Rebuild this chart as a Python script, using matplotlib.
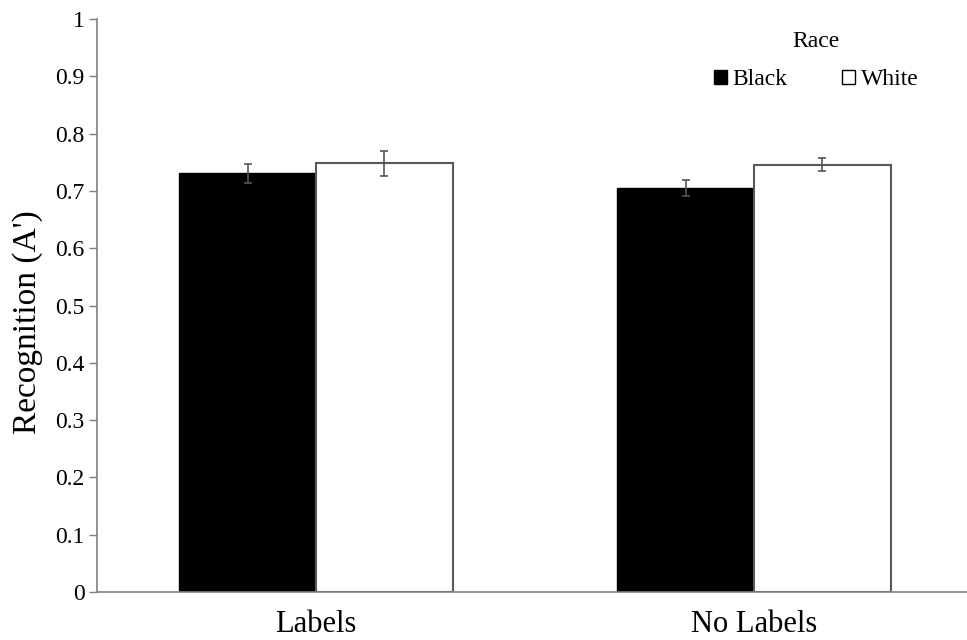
import matplotlib
matplotlib.use("Agg")
import matplotlib.pyplot as plt
import numpy as np
from matplotlib.patches import Patch

categories = ["Labels", "No Labels"]
series_names = ["Black", "White"]
black_vals = [0.731, 0.705]
white_vals = [0.748, 0.746]
black_err = [0.0166, 0.0145]
white_err = [0.0215, 0.012]
yticks = [0, 0.1, 0.2, 0.3, 0.4, 0.5, 0.6, 0.7, 0.8, 0.9, 1.0]
ytick_labels = ["0", "0.1", "0.2", "0.3", "0.4", "0.5", "0.6", "0.7", "0.8", "0.9", "1"]

plt.rcParams['font.family'] = ['Liberation Serif', 'DejaVu Serif']

fig = plt.figure(figsize=(9.67, 6.4), dpi=100)
ax = fig.add_axes([97/967, 48/640, 876/967, 573/640])

x = np.arange(len(categories))
w = 0.312
ecol = "#555555"
ax.bar(x - w/2, black_vals, width=w, color="black", edgecolor="black", linewidth=1,
       yerr=black_err, error_kw=dict(ecolor=ecol, elinewidth=1.2, capsize=3, capthick=1.2),
       label=series_names[0], zorder=2)
ax.bar(x + w/2, white_vals, width=w, color="white", edgecolor="#595959", linewidth=1.5,
       yerr=white_err, error_kw=dict(ecolor=ecol, elinewidth=1.2, capsize=3, capthick=1.2),
       label=series_names[1], zorder=2)

ax.set_xlim(-0.5, 1.5)
ax.set_ylim(0, 1)
ax.set_yticks(yticks)
ax.set_yticklabels(ytick_labels, fontsize=17)
ax.set_xticks(x)
ax.set_xticklabels(categories, fontsize=22)
ax.tick_params(axis='x', length=0, pad=13)
ax.tick_params(axis='y', length=6, width=1, color="#7f7f7f", pad=3, direction='out')

for s in ["top", "right"]:
    ax.spines[s].set_visible(False)
for s in ["left", "bottom"]:
    ax.spines[s].set_color("#7f7f7f")
    ax.spines[s].set_linewidth(1.2)

ax.set_ylabel("Recognition (A')", fontsize=24)
ax.yaxis.set_label_coords(-0.062, 0.471)

handles = [Patch(facecolor="black", edgecolor="black"),
           Patch(facecolor="white", edgecolor="black", linewidth=1)]
leg = ax.legend(handles, series_names, title="Race", ncol=2, frameon=False,
                fontsize=17, title_fontsize=17, handlelength=0.55, handleheight=0.55,
                handletextpad=0.25, columnspacing=2.3, labelspacing=0.72, loc="center",
                bbox_to_anchor=((816-97)/876, (592-60.5)/573))

fig.savefig("out.png", dpi=100)
